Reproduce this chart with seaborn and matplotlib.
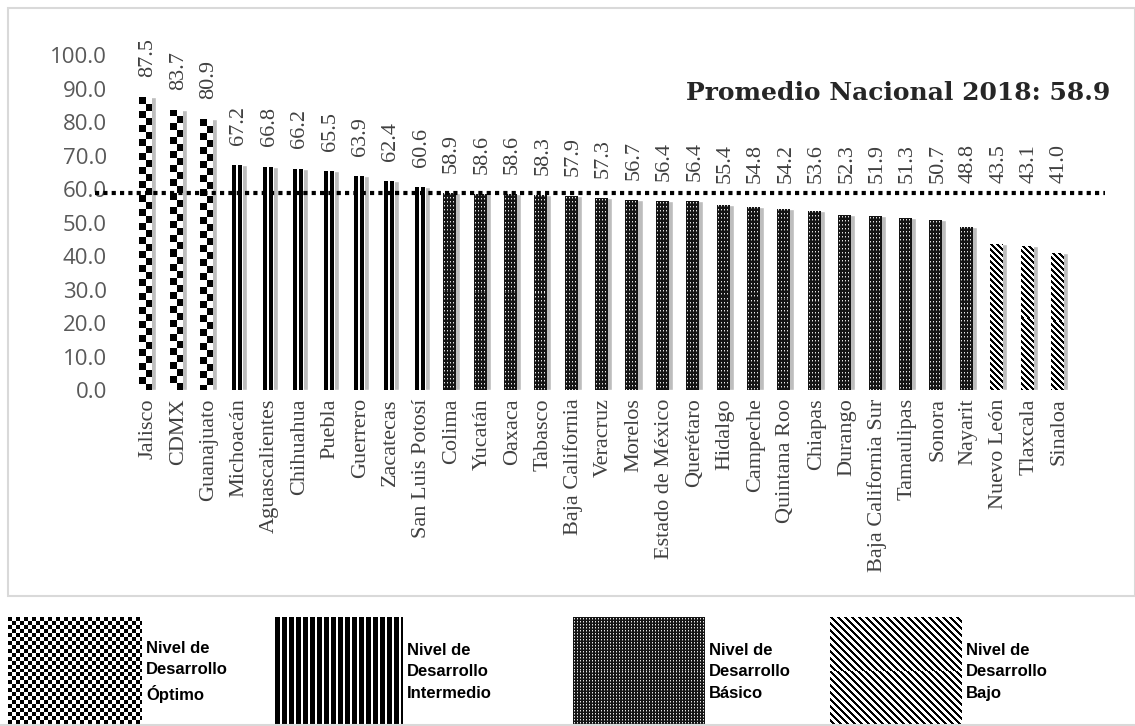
import numpy as np
import pandas as pd
import matplotlib
matplotlib.use("Agg")
import matplotlib.pyplot as plt
from matplotlib.patches import Rectangle
import seaborn as sns

# Data
estados = ["Jalisco", "CDMX", "Guanajuato", "Michoacán", "Aguascalientes", "Chihuahua",
           "Puebla", "Guerrero", "Zacatecas", "San Luis Potosí", "Colima", "Yucatán",
           "Oaxaca", "Tabasco", "Baja California", "Veracruz", "Morelos", "Estado de México",
           "Querétaro", "Hidalgo", "Campeche", "Quintana Roo", "Chiapas", "Durango",
           "Baja California Sur", "Tamaulipas", "Sonora", "Nayarit", "Nuevo León",
           "Tlaxcala", "Sinaloa"]
valores = [87.5, 83.7, 80.9, 67.2, 66.8, 66.2, 65.5, 63.9, 62.4, 60.6, 58.9, 58.6,
           58.6, 58.3, 57.9, 57.3, 56.7, 56.4, 56.4, 55.4, 54.8, 54.2, 53.6, 52.3,
           51.9, 51.3, 50.7, 48.8, 43.5, 43.1, 41.0]
nivel = ["opt"] * 3 + ["int"] * 7 + ["bas"] * 18 + ["baj"] * 3
promedio = 58.9
niveles = ["opt", "int", "bas", "baj"]
nivel_txt = ["Nivel de\nDesarrollo\nÓptimo", "Nivel de\nDesarrollo\nIntermedio",
             "Nivel de\nDesarrollo\nBásico", "Nivel de\nDesarrollo\nBajo"]

df = pd.DataFrame({"estado": estados, "valor": valores, "nivel": nivel})


def textura(kind, rows, cols, cell):
    # 1 = white, 0 = black
    i, j = np.mgrid[0:rows, 0:cols]
    if kind == "opt":
        return ((i // cell + j // cell) % 2).astype(float)
    if kind == "int":
        return (j % cell < max(1, cell // 3)).astype(float)
    if kind == "bas":
        out = np.full((rows, cols), 0.08)
        out[(i % cell == 1) & (j % 3 == 1)] = 0.9
        out[(i % cell == 2) & (j % 3 == 1)] = 0.45
        return out
    return (((j - i) % cell) >= cell // 2).astype(float)


W, H = 1135, 726
fig = plt.figure(figsize=(W / 100, H / 100), dpi=100)
sns.set_style("white")

ax_l, ax_r, ax_b, ax_t = 125, 1105, 390, 22
ax = fig.add_axes([ax_l / W, 1 - ax_b / H, (ax_r - ax_l) / W, (ax_b - ax_t) / H])
xlim = (-0.75, 31.5)
ylim = (0, 110)
pxx = (ax_r - ax_l) / (xlim[1] - xlim[0])
pxy = (ax_b - ax_t) / (ylim[1] - ylim[0])

sns.barplot(data=df, x="estado", y="valor", color="#bdbdbd", width=0.56,
            saturation=1, ax=ax)

bar_cell = {"opt": 7, "int": 6, "bas": 4, "baj": 6}
for p, kind in zip(ax.patches, nivel):
    x0, w, h = p.get_x(), p.get_width(), p.get_height()
    wf = w * 0.76
    cols = max(1, int(round(wf * pxx)))
    rows = max(1, int(round(h * pxy)))
    tex = textura(kind, rows, cols, bar_cell[kind])
    im = ax.imshow(tex, cmap="gray", vmin=0, vmax=1, extent=(x0, x0 + wf, 0, h),
                   aspect="auto", interpolation="nearest", zorder=3)
    im.set_clip_path(p)
    ylab = max(h + 6, 61.8)
    ax.text(x0 + w / 2, ylab, f"{h:.1f}", rotation=90, ha="center", va="bottom",
            fontsize=16, family="Liberation Serif", color="#404040")

ax.set_xlim(*xlim)
ax.set_ylim(*ylim)
ax.axhline(promedio, xmin=-0.031, xmax=1.0, color="black", lw=3,
           linestyle=(0, (1, 1)), clip_on=False, zorder=4)
ax.text(1.005, 0.808, f"Promedio Nacional 2018: {promedio}", transform=ax.transAxes,
        ha="right", va="center", fontsize=18, fontweight="bold",
        family="DejaVu Serif", color="#262626")

ax.set_yticks(np.arange(0, 101, 10))
ax.set_yticklabels([f"{v:.1f}" for v in np.arange(0, 101, 10)],
                   fontsize=16, family="Open Sans", color="#595959")
ax.set_xticks(range(len(estados)))
ax.set_xticklabels(estados, rotation=90, fontsize=16, family="Liberation Serif",
                   color="#404040", va="top")
ax.tick_params(axis="y", length=0, pad=13)
ax.tick_params(axis="x", length=0, pad=6)
ax.set_xlabel("")
ax.set_ylabel("")
sns.despine(ax=ax, left=True, bottom=True)

# chart frame
fig.add_artist(Rectangle((8 / W, 1 - 596 / H), (W - 8) / W, 588 / H,
                         transform=fig.transFigure, fill=False, ec="#d9d9d9", lw=1.5))

# legend with textures
lg = fig.add_axes([0, 0, 1, 130 / H])
box_x = [8, 273, 573, 830]
box_w = [134, 130, 132, 132]
leg_cell = {"opt": 4, "int": 7, "bas": 3, "baj": 7}
for bx, bw, kind, txt in zip(box_x, box_w, niveles, nivel_txt):
    tex = textura(kind, 110, bw, leg_cell[kind])
    lg.imshow(tex, cmap="gray", vmin=0, vmax=1, extent=(bx, bx + bw, 726, 617),
              aspect="auto", interpolation="nearest")
    lg.text(bx + bw + 4, 672, txt, ha="left", va="center", fontsize=12,
            fontweight="bold", family="Liberation Sans", color="black",
            linespacing=1.55)
lg.plot([0, W], [725, 725], color="#d9d9d9", lw=1.5)
lg.set_xlim(0, W)
lg.set_ylim(726, 596)
lg.axis("off")

fig.savefig("out.png", dpi=100)
